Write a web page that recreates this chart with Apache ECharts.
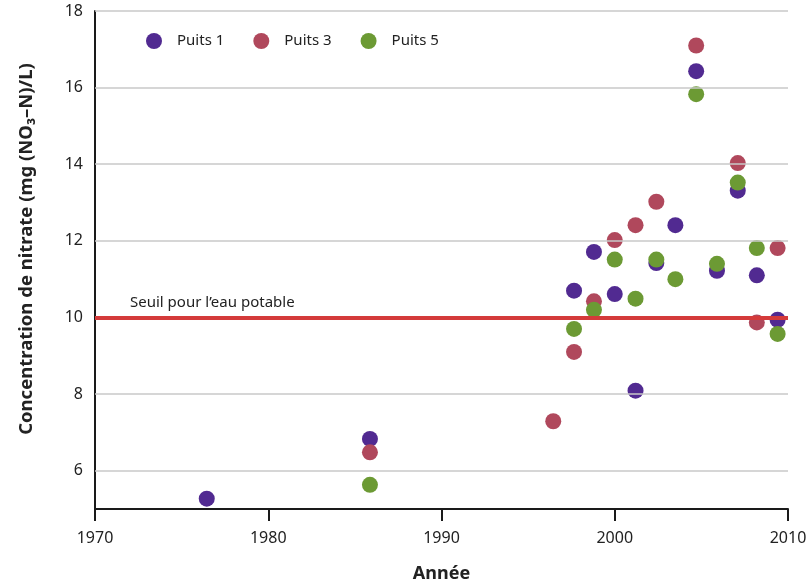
<!DOCTYPE html>
<html>
<head>
<meta charset="utf-8">
<script src="https://cdn.jsdelivr.net/npm/echarts@6/dist/echarts.min.js"></script>
<style>html,body{margin:0;padding:0;background:#fff;}#c{width:810px;height:584px;}</style>
</head>
<body>
<div id="c"></div>
<script>
var years1 = [1976.45, 1985.87, 1997.65, 1998.8, 2000.0, 2001.2, 2002.4, 2003.5, 2004.7, 2005.9, 2007.1, 2008.2, 2009.4];
var puits1 = [5.27, 6.83, 10.70, 11.71, 10.61, 8.09, 11.42, 12.41, 16.43, 11.22, 13.31, 11.10, 9.94];
var years3 = [1985.87, 1996.45, 1997.65, 1998.8, 2000.0, 2001.2, 2002.4, 2004.7, 2007.1, 2008.2, 2009.4];
var puits3 = [6.48, 7.29, 9.10, 10.42, 12.02, 12.41, 13.02, 17.10, 14.03, 9.87, 11.81];
var years5 = [1985.87, 1997.65, 1998.8, 2000.0, 2001.2, 2002.4, 2003.5, 2004.7, 2005.9, 2007.1, 2008.2, 2009.4];
var puits5 = [5.63, 9.70, 10.20, 11.51, 10.49, 11.51, 11.00, 15.83, 11.40, 13.52, 11.81, 9.57];
var seriesNames = ['Puits 1', 'Puits 3', 'Puits 5'];
var yTicks = [6, 8, 10, 12, 14, 16, 18];
var xTicks = [1970, 1980, 1990, 2000, 2010];
var seuil = 10;
var seuilLabel = 'Seuil pour l\u2019eau potable';

var FONT = 'Noto Sans';
var colors = ['#512a91', '#b0485c', '#6c9a34'];

function pairs(xs, ys) { return xs.map(function (x, i) { return [x, ys[i]]; }); }

var chart = echarts.init(document.getElementById('c'), null, { renderer: 'canvas' });
chart.setOption({
  animation: false,
  backgroundColor: '#fff',
  textStyle: { fontFamily: FONT },
  grid: { left: 95, right: 22, top: 11, bottom: 75, containLabel: false, outerBoundsMode: 'none' },
  legend: {
    data: seriesNames,
    left: 141, top: 28,
    icon: 'circle',
    itemWidth: 36, itemHeight: 16, itemGap: 29,
    textStyle: { fontFamily: FONT, fontSize: 15, color: '#222' }
  },
  xAxis: {
    type: 'value', min: xTicks[0], max: xTicks[xTicks.length - 1], interval: 10,
    name: 'Ann\u00e9e', nameLocation: 'middle', nameGap: 56,
    nameTextStyle: { fontFamily: FONT, fontSize: 18, fontWeight: 'bold', color: '#222' },
    axisLine: { show: true, lineStyle: { color: '#1a1a1a', width: 2 } },
    axisTick: { show: true, length: 12, lineStyle: { color: '#1a1a1a', width: 2 } },
    axisLabel: { margin: 21, fontFamily: FONT, fontSize: 16, color: '#222',
      formatter: function (v) { return String(v); } },
    splitLine: { show: false }
  },
  yAxis: {
    type: 'value', min: 5, max: 18, interval: 1,
    name: 'Concentration de nitrate (mg (NO\u2083\u2013N)/L)', nameLocation: 'middle', nameGap: 59,
    nameTextStyle: { fontFamily: FONT, fontSize: 18.5, fontWeight: 'bold', color: '#222', padding: [0, 0, 0, 22] },
    axisLine: { show: true, lineStyle: { color: '#1a1a1a', width: 2 } },
    axisTick: { show: false },
    axisLabel: {
      margin: 12, fontFamily: FONT, fontSize: 16, color: '#222',
      formatter: function (v) { return yTicks.indexOf(v) >= 0 ? String(v) : ''; }
    },
    splitLine: { show: false }
  },
  series: [
    {
      type: 'line', data: [], z: 1, silent: true,
      markLine: {
        silent: true, symbol: 'none', animation: false,
        label: { show: false },
        lineStyle: { color: '#c8c8c8', width: 1.5, type: 'solid' },
        data: yTicks.map(function (t) { return { yAxis: t }; })
      }
    },
    {
      type: 'line', data: [], z: 1, silent: true,
      markLine: {
        silent: true, symbol: 'none', animation: false,
        lineStyle: { color: '#d43a3a', width: 4, type: 'solid' },
        label: {
          show: true, position: 'insideStartTop', formatter: seuilLabel,
          fontFamily: FONT, fontSize: 15, color: '#222', padding: [0, 0, 2, 30]
        },
        data: [{ yAxis: seuil }]
      }
    },
    { name: seriesNames[0], type: 'scatter', symbolSize: 16, z: 3, data: pairs(years1, puits1), itemStyle: { color: colors[0], opacity: 1 } },
    { name: seriesNames[1], type: 'scatter', symbolSize: 16, z: 3, data: pairs(years3, puits3), itemStyle: { color: colors[1], opacity: 1 } },
    { name: seriesNames[2], type: 'scatter', symbolSize: 16, z: 3, data: pairs(years5, puits5), itemStyle: { color: colors[2], opacity: 1 } }
  ]
});
</script>
</body>
</html>
